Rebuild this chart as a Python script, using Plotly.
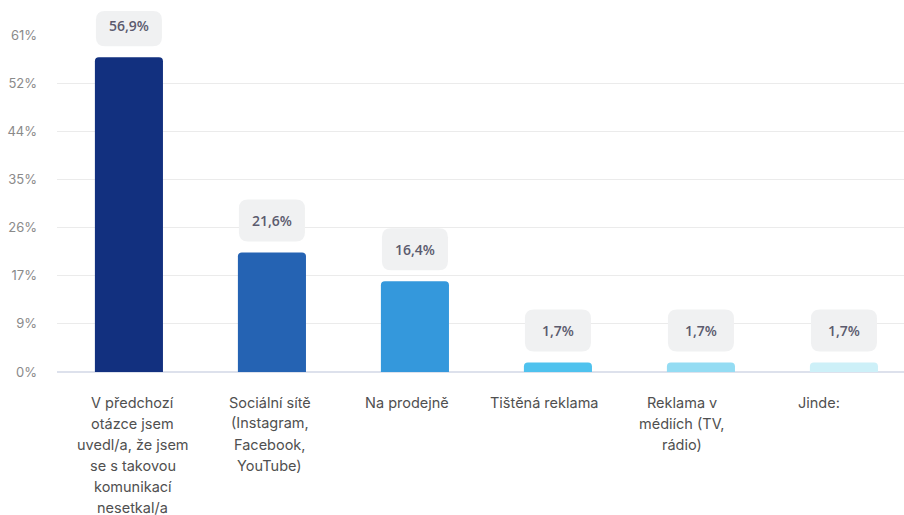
import plotly.graph_objects as go

# Survey answers: where respondents encountered the communication
label_lines = [
    ["V předchozí", "otázce jsem", "uvedl/a, že jsem", "se s takovou", "komunikací", "nesetkal/a"],
    ["Sociální sítě", "(Instagram,", "Facebook,", "YouTube)"],
    ["Na prodejně"],
    ["Tištěná reklama"],
    ["Reklama v", "médiích (TV,", "rádio)"],
    ["Jinde:"],
]
values = [56.9, 21.6, 16.4, 1.7, 1.7, 1.7]
bar_colors = ["#12307f", "#2563b3", "#3498dc", "#4fc2ee", "#94dcf3", "#cdf0f8"]

tick_step = 8.7
tick_labels = ["0%", "9%", "17%", "26%", "35%", "44%", "52%", "61%"]
tick_vals = [i * tick_step for i in range(len(tick_labels))]

x_idx = list(range(len(values)))

# layout geometry
W, H = 904, 515
M_L, M_R, M_T, M_B = 57, 0, 35, 143
PLOT_H = H - M_T - M_B
X_RANGE = [-0.503, 5.42]
Y_MAX = 7 * tick_step
# category captions sit on a slightly tighter pitch than the bars
LABEL_PITCH = 0.96
LABEL_OFFSET = 0.025

fig = go.Figure(
    go.Bar(
        x=x_idx,
        y=values,
        marker=dict(color=bar_colors, line=dict(width=0)),
        width=0.476,
        hoverinfo="skip",
    )
)

shapes = []
annotations = []


def rounded_rect(x0, y0, x1, y1, r):
    return (
        f"M{x0 + r},{y0} L{x1 - r},{y0} Q{x1},{y0} {x1},{y0 + r} "
        f"L{x1},{y1 - r} Q{x1},{y1} {x1 - r},{y1} L{x0 + r},{y1} "
        f"Q{x0},{y1} {x0},{y1 - r} L{x0},{y0 + r} Q{x0},{y0} {x0 + r},{y0} Z"
    )


for i, v in enumerate(values):
    # badge anchored in paper coordinates so it is not clipped by the plot area
    xa = (i - X_RANGE[0]) / (X_RANGE[1] - X_RANGE[0])
    ya = v / Y_MAX
    room = M_T + (1 - ya) * PLOT_H - 11  # space up to the top edge, keep 11px
    top = min(53, room)
    shapes.append(dict(
        type="path",
        xref="paper", yref="paper",
        xsizemode="pixel", ysizemode="pixel",
        xanchor=xa, yanchor=ya,
        path=rounded_rect(-33, 11, 33, top, 9),
        fillcolor="#f0f1f2",
        line=dict(width=0),
        layer="above",
    ))
    annotations.append(dict(
        x=i, y=v, xref="x", yref="y",
        text=f"{v:.1f}%".replace(".", ","),
        showarrow=False,
        yanchor="middle",
        yshift=32,
        font=dict(family="Open Sans", size=14, color="#5b5b6e", weight=600),
    ))
    # wrapped category caption under the axis
    for j, line in enumerate(label_lines[i]):
        annotations.append(dict(
            x=i * LABEL_PITCH + LABEL_OFFSET, y=0, xref="x", yref="y",
            text=line,
            showarrow=False,
            yanchor="middle",
            yshift=-30 - 21 * j,
            font=dict(family="Inter", size=14.5, color="#505050"),
        ))

fig.update_layout(
    width=W,
    height=H,
    margin=dict(l=M_L, r=M_R, t=M_T, b=M_B),
    paper_bgcolor="white",
    plot_bgcolor="white",
    showlegend=False,
    barcornerradius=4,
    shapes=shapes,
    annotations=annotations,
    xaxis=dict(
        range=X_RANGE,
        showticklabels=False,
        showgrid=False,
        zeroline=False,
        showline=False,
        fixedrange=True,
    ),
    yaxis=dict(
        range=[0, Y_MAX],
        tickvals=tick_vals,
        ticktext=tick_labels,
        showgrid=True,
        gridcolor="#ebebeb",
        gridwidth=1,
        zeroline=True,
        zerolinecolor="#dde1ec",
        zerolinewidth=2,
        showline=False,
        ticks="",
        ticklabelstandoff=19,
        tickfont=dict(family="Inter", size=13, color="#8a8a8a"),
        fixedrange=True,
    ),
)

fig.write_html("out.html")
